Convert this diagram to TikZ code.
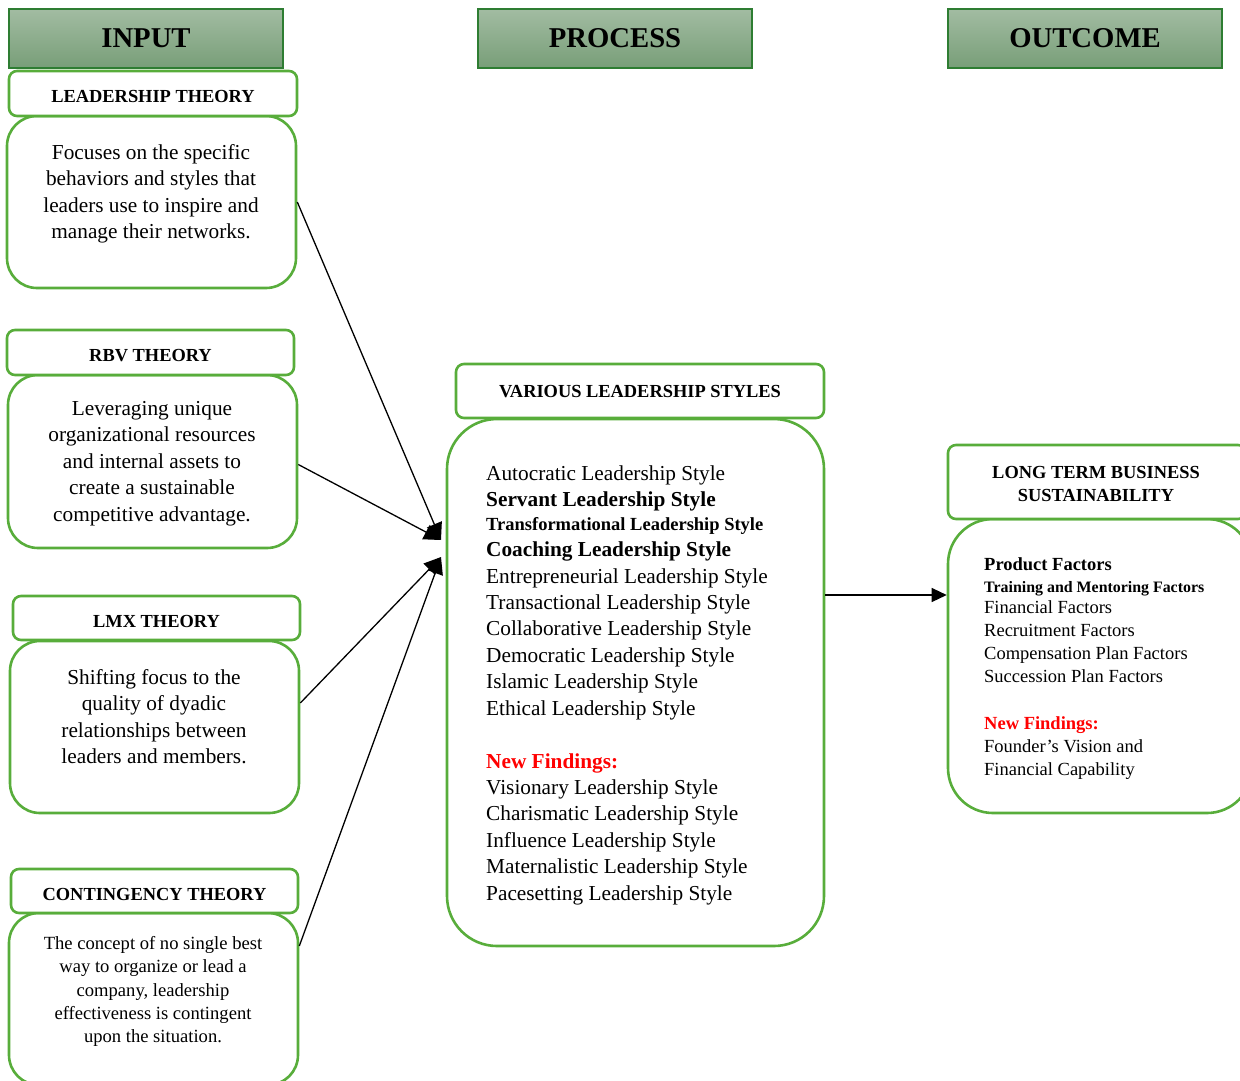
\documentclass[tikz,border=0pt]{standalone}
\usepackage{fontspec}
\setmainfont{Liberation Serif}
\usetikzlibrary{arrows.meta,calc}
\definecolor{boxgreen}{HTML}{58AD3B}
\definecolor{hdrtop}{HTML}{A2BCA2}
\definecolor{hdrbot}{HTML}{789E78}
\definecolor{hdrline}{HTML}{2E7D32}
\definecolor{findred}{HTML}{FF0000}
\tikzset{
  hdr/.style={draw=hdrline, line width=1.3pt, top color=hdrtop, bottom color=hdrbot,
    minimum width=274pt, minimum height=59pt, inner sep=0pt,
    font=\fontsize{28.7}{32}\selectfont\bfseries},
  ttlbox/.style={draw=boxgreen, line width=2.6pt, rounded corners=8pt, fill=white, inner sep=0pt},
  ttl/.style={ttlbox, align=center, text height=18pt, text depth=0pt,
    font=\fontsize{18.4}{23}\selectfont\bfseries},
  ttltext/.style={align=center, inner sep=0pt, font=\fontsize{18.4}{23}\selectfont\bfseries},
  bodybox/.style={draw=boxgreen, line width=2.6pt, rounded corners=30pt, inner sep=0pt},
  desc/.style={align=center, inner sep=0pt, font=\fontsize{21.3}{26.5}\selectfont},
  lst/.style={anchor=base west, inner sep=0pt, font=\fontsize{21.3}{26}\selectfont},
  lstb/.style={anchor=base west, inner sep=0pt, font=\fontsize{21.3}{26}\selectfont\bfseries},
  lsts/.style={anchor=base west, inner sep=0pt, font=\fontsize{18.5}{23}\selectfont\bfseries},
  rl/.style={anchor=base west, inner sep=0pt, font=\fontsize{18.5}{23}\selectfont},
  rlb/.style={anchor=base west, inner sep=0pt, font=\fontsize{18.5}{23}\selectfont\bfseries},
  rls/.style={anchor=base west, inner sep=0pt, font=\fontsize{15.9}{20}\selectfont\bfseries},
  arr/.style={draw=black, line width=1.3pt, -{Triangle[length=17pt,width=16pt]}},
}
\begin{document}
\begin{tikzpicture}[x=1pt,y=-1pt]
\useasboundingbox (0,0) rectangle (1240,1080);
\begin{scope}
\clip (0,0) rectangle (1240,1080);
% headers
\node[hdr] (hin) at (146,38.5) {INPUT};
\node[hdr] (hpr) at (615,38.5) {PROCESS};
\node[hdr] (hout) at (1085,38.5) {OUTCOME};

% Leadership theory
\node[bodybox, minimum width=289pt, minimum height=172pt] (lb) at (151.5,202) {};
\node[ttl, minimum width=288pt, minimum height=45pt] (lt) at (153,93.5) {LEADERSHIP THEORY};
\node[desc] (ld) at (151,194) {Focuses on the specific\\behaviors and styles that\\leaders use to inspire and\\manage their networks.};

% RBV theory
\node[bodybox, minimum width=289pt, minimum height=173pt] (rb) at (152.5,461.5) {};
\node[ttl, minimum width=287pt, minimum height=45pt] (rt) at (150.5,352.5) {RBV THEORY};
\node[desc] (rd) at (152,463.5) {Leveraging unique\\organizational resources\\and internal assets to\\create a sustainable\\competitive advantage.};

% LMX theory
\node[bodybox, minimum width=289pt, minimum height=172pt] (xb) at (154.5,727) {};
\node[ttl, minimum width=287pt, minimum height=44pt] (xt) at (156.5,618) {LMX THEORY};
\node[desc] (xd) at (154,716.5) {Shifting focus to the\\quality of dyadic\\relationships between\\leaders and members.};

% Contingency theory
\node[bodybox, minimum width=289pt, minimum height=172pt] (cb) at (153.5,999) {};
\node[ttl, minimum width=287pt, minimum height=44pt] (ct) at (154.5,891) {CONTINGENCY THEORY};
\node[desc, font=\fontsize{18.6}{23.25}\selectfont] (cd) at (153,991.5) {The concept of no single best\\way to organize or lead a\\company, leadership\\effectiveness is contingent\\upon the situation.};

% Various leadership styles
\node[bodybox, rounded corners=50pt, minimum width=377pt, minimum height=527pt] (vb) at (635.5,682.5) {};
\node[ttl, text height=12pt, minimum width=368pt, minimum height=54pt] (vt) at (640,391) {VARIOUS LEADERSHIP STYLES};
\node[lst]  (v1) at (486,480.5) {Autocratic Leadership Style};
\node[lstb] (v2) at (486,506.5) {Servant Leadership Style};
\node[lsts] (v3) at (486,530.5) {Transformational Leadership Style};
\node[lstb] (v4) at (486,556.5) {Coaching Leadership Style};
\node[lst]  (v5) at (486,583.5) {Entrepreneurial Leadership Style};
\node[lst]  (v6) at (486,609.5) {Transactional Leadership Style};
\node[lst]  (v7) at (486,635.5) {Collaborative Leadership Style};
\node[lst]  (v8) at (486,662.5) {Democratic Leadership Style};
\node[lst]  (v9) at (486,688.5) {Islamic Leadership Style};
\node[lst]  (v10) at (486,715.5) {Ethical Leadership Style};
\node[lstb, text=findred] (vnf) at (486,768.5) {New Findings:};
\node[lst]  (v11) at (486,794.5) {Visionary Leadership Style};
\node[lst]  (v12) at (486,820.5) {Charismatic Leadership Style};
\node[lst]  (v13) at (486,847.5) {Influence Leadership Style};
\node[lst]  (v14) at (486,873.5) {Maternalistic Leadership Style};
\node[lst]  (v15) at (486,900.5) {Pacesetting Leadership Style};

% Long term business sustainability
\node[bodybox, rounded corners=45pt, minimum width=304pt, minimum height=294pt] (ob) at (1100,666) {};
\node[ttlbox, minimum width=298pt, minimum height=74pt] (ot) at (1097,482) {};
\node[ttltext] (otx) at (1096,484) {LONG TERM BUSINESS\\SUSTAINABILITY};
\node[rlb] (o1) at (984,570.5) {Product Factors};
\node[rls] (o2) at (984,592) {Training and Mentoring Factors};
\node[rl]  (o3) at (984,613.5) {Financial Factors};
\node[rl]  (o4) at (984,636.5) {Recruitment Factors};
\node[rl]  (o5) at (984,659.5) {Compensation Plan Factors};
\node[rl]  (o6) at (984,682.5) {Succession Plan Factors};
\node[rlb, text=findred] (onf) at (984,729.5) {New Findings:};
\node[rl]  (o7) at (984,752.5) {Founder’s Vision and};
\node[rl]  (o8) at (984,775.5) {Financial Capability};
\end{scope}

% arrow targets
\coordinate (tA) at (441,540);
\coordinate (tB) at (441,557);

\draw[arr] (lb.east) -- (tA);
\draw[arr] ([yshift=-3pt]rb.east) -- (tA);
\draw[arr] ([yshift=24pt]xb.east) -- (tB);
\draw[arr] ([yshift=53pt]cb.east) -- (tB);
\draw[arr, -{Triangle[length=15pt,width=14pt]}] ([yshift=87.5pt]vb.east) -- ([yshift=87.5pt]vb.east -| ob.west);
\end{tikzpicture}
\end{document}
